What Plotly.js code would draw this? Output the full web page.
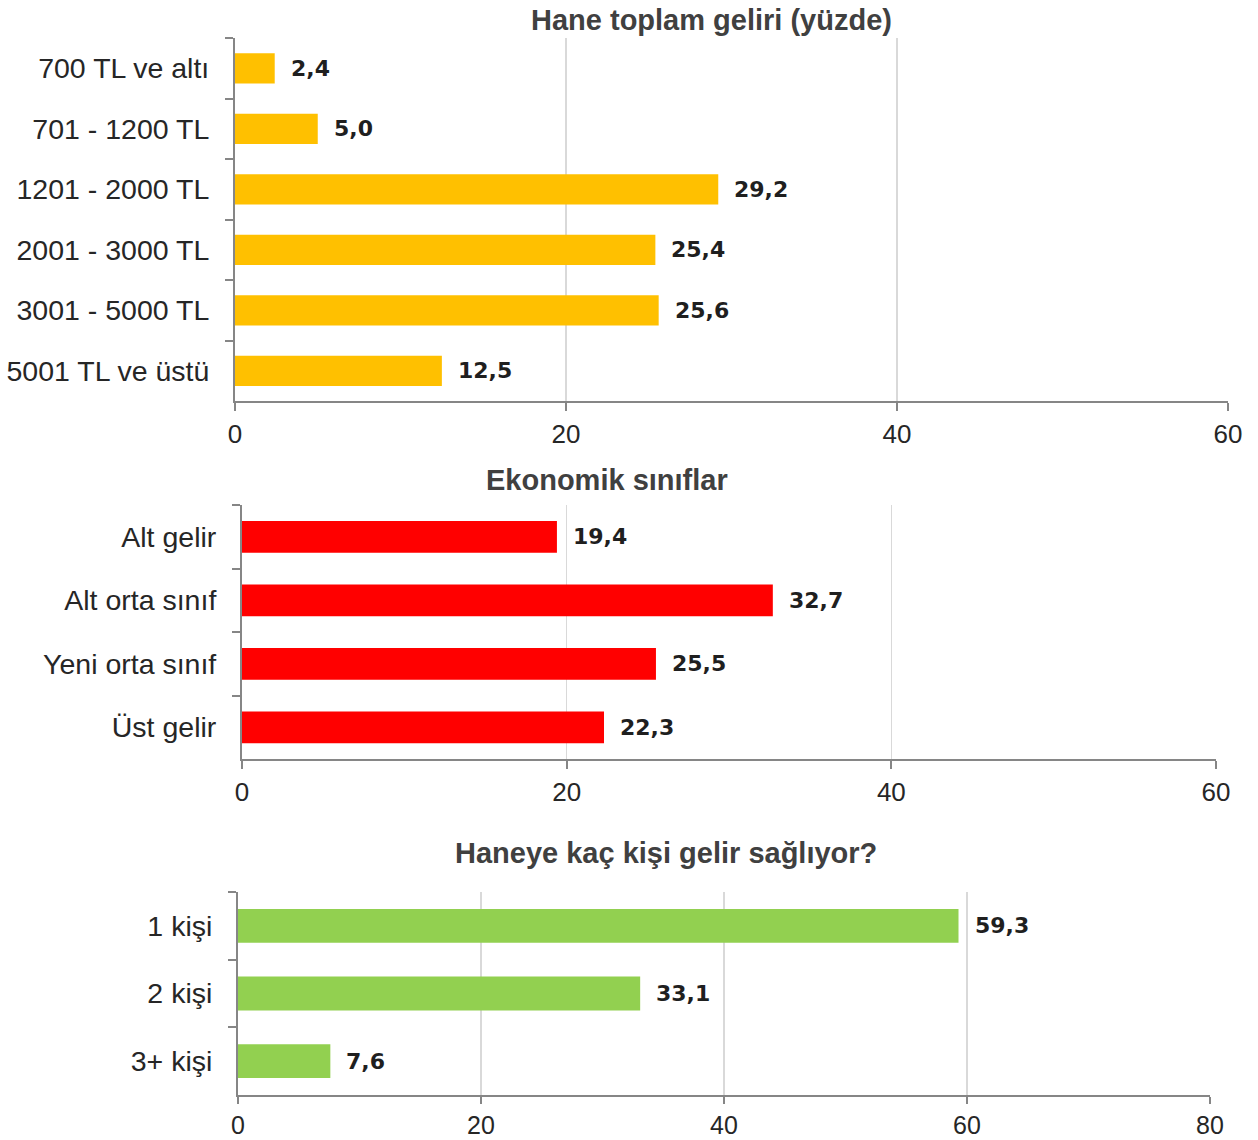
<!DOCTYPE html>
<html>
<head>
<meta charset="utf-8">
<script src="https://cdn.plot.ly/plotly-3.0.1.min.js"></script>
<style>html,body{margin:0;padding:0;background:#fff;}#chart{width:1258px;height:1140px;}</style>
</head>
<body>
<div id="chart"></div>
<script>
// Data
const incomeCats = ["700 TL ve altı", "701 - 1200 TL", "1201 - 2000 TL", "2001 - 3000 TL", "3001 - 5000 TL", "5001 TL ve üstü"];
const incomeVals = [2.4, 5.0, 29.2, 25.4, 25.6, 12.5];
const classCats = ["Alt gelir", "Alt orta sınıf", "Yeni orta sınıf", "Üst gelir"];
const classVals = [19.4, 32.7, 25.5, 22.3];
const earnerCats = ["1 kişi", "2 kişi", "3+ kişi"];
const earnerVals = [59.3, 33.1, 7.6];
const titles = ["Hane toplam geliri (yüzde)", "Ekonomik sınıflar", "Haneye kaç kişi gelir sağlıyor?"];
const xTickVals1 = [0, 20, 40, 60];
const xTickVals3 = [0, 20, 40, 60, 80];

const W = 1258, H = 1140;
const fx = p => p / W;
const fy = p => 1 - p / H;

const panels = [
  {cats: incomeCats, vals: incomeVals, color: "#FFC000", x: [235, 1228], y: [38, 401], range: [0, 60], ticks: xTickVals1, title: titles[0], tx: 711, ty: 20, tfs: 26, tso: 1, tl: 8},
  {cats: classCats, vals: classVals, color: "#FF0000", x: [242, 1216], y: [505, 759], range: [0, 60], ticks: xTickVals1, title: titles[1], tx: 607, ty: 480, tfs: 26, tso: 1, tl: 8},
  {cats: earnerCats, vals: earnerVals, color: "#92D050", x: [238, 1210], y: [892, 1095], range: [0, 80], ticks: xTickVals3, title: titles[2], tx: 666, ty: 853, tfs: 25, tso: 0, tl: 7}
];

const traces = [];
const annotations = [];
const layout = {
  width: W, height: H,
  margin: {l: 0, r: 0, t: 0, b: 0},
  paper_bgcolor: "#fff", plot_bgcolor: "#fff",
  showlegend: false,
  font: {family: "Liberation Sans, Arial, sans-serif", color: "#262626"},
  annotations: annotations
};

panels.forEach((p, i) => {
  const n = i === 0 ? "" : String(i + 1);
  traces.push({
    type: "bar", orientation: "h",
    x: p.vals, y: p.cats,
    xaxis: "x" + n, yaxis: "y" + n,
    width: 0.5,
    marker: {color: p.color},
    hoverinfo: "none"
  });
  layout["xaxis" + n] = {
    domain: [fx(p.x[0]), fx(p.x[1])],
    anchor: "y" + n,
    range: p.range,
    tickvals: p.ticks,
    showgrid: true, gridcolor: "#d9d9d9", gridwidth: 1.5,
    zeroline: false,
    showline: true, linecolor: "#868686", linewidth: 2,
    ticks: "outside", ticklen: p.tl, tickcolor: "#868686", tickwidth: 2,
    tickfont: {size: p.tfs, color: "#262626"},
    ticklabelstandoff: p.tso,
    fixedrange: true
  };
  layout["yaxis" + n] = {
    domain: [fy(p.y[1]), fy(p.y[0])],
    anchor: "x" + n,
    type: "category",
    autorange: "reversed",
    showgrid: false, zeroline: false,
    showline: true, linecolor: "#868686", linewidth: 2,
    ticks: "outside", tickson: "boundaries", ticklen: 8, tickcolor: "#868686", tickwidth: 2,
    tickfont: {size: 28.5, color: "#262626"},
    ticklabelstandoff: 18,
    fixedrange: true
  };
  p.cats.forEach((c, k) => {
    annotations.push({
      xref: "x" + n, yref: "y" + n,
      x: p.vals[k], y: c,
      text: p.vals[k].toFixed(1).replace(".", ","),
      showarrow: false, xanchor: "left", yanchor: "middle",
      xshift: 14,
      font: {family: "DejaVu Sans, sans-serif", size: 22, color: "#1f1f1f", weight: "bold"}
    });
  });
  annotations.push({
    xref: "paper", yref: "paper",
    x: fx(p.tx), y: fy(p.ty),
    text: "<b>" + p.title + "</b>",
    showarrow: false, xanchor: "center", yanchor: "middle",
    font: {family: "Liberation Sans, Arial, sans-serif", size: 29, color: "#404040"}
  });
});

Plotly.newPlot("chart", traces, layout, {staticPlot: true, displayModeBar: false});
</script>
</body>
</html>
